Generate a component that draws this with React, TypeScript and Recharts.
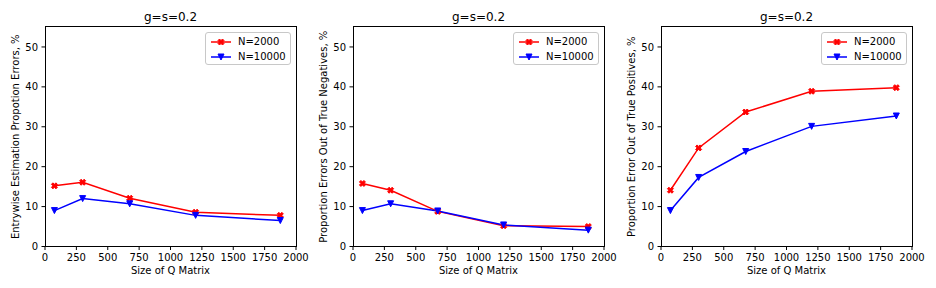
import React from 'react';
import { LineChart, Line, XAxis, YAxis, ReferenceArea, Legend } from 'recharts';

const qSizes = [75, 300, 675, 1200, 1875];
const xTicks = [0, 250, 500, 750, 1000, 1250, 1500, 1750, 2000];
const yTicks = [0, 10, 20, 30, 40, 50];
const seriesNames = ['N=2000', 'N=10000'];
const titles = ['g=s=0.2', 'g=s=0.2', 'g=s=0.2'];
const yLabels = [
  'Entrywise Estimation Propotion Errors, %',
  'Proportion Errors Out of True Negatives, %',
  'Proportion Error Out of True Positives, %',
];
const xLabel = 'Size of Q Matrix';

const entrywiseN2000 = [15.2, 16.1, 12.1, 8.6, 7.8];
const entrywiseN10000 = [9.0, 12.0, 10.7, 7.8, 6.5];
const trueNegN2000 = [15.8, 14.1, 8.8, 5.2, 5.0];
const trueNegN10000 = [9.0, 10.7, 8.9, 5.4, 4.1];
const truePosN2000 = [14.1, 24.7, 33.7, 38.9, 39.8];
const truePosN10000 = [9.0, 17.3, 23.8, 30.1, 32.7];

const panels = [
  { a: entrywiseN2000, b: entrywiseN10000 },
  { a: trueNegN2000, b: trueNegN10000 },
  { a: truePosN2000, b: truePosN10000 },
];

const RED = '#ff0000';
const BLUE = '#0000ff';
const FONT = 'DejaVu Sans, sans-serif';

const X_PTS = [
  [-1, -2], [0, -1], [1, -2], [2, -1], [1, 0], [2, 1],
  [1, 2], [0, 1], [-1, 2], [-2, 1], [-1, 0], [-2, -1],
];

function xPoints(cx: number, cy: number) {
  const s = 1.5;
  return X_PTS.map(([a, b]) => `${cx + a * s},${cy + b * s}`).join(' ');
}
function vPoints(cx: number, cy: number) {
  return `${cx - 3},${cy - 3} ${cx + 3},${cy - 3} ${cx},${cy + 3}`;
}

const CHART_W = 310;
const CHART_H = 288;
const Y_W = 45;
const TOP = 27;
const X_H = 41.5;
const RIGHT = 14;
const PLOT_R = CHART_W - RIGHT;
const LEG_W = 86;
const LEG_H = 33;

function LegendBox() {
  const row = (name: string, color: string, kind: 'x' | 'v') => (
    <div style={{ display: 'flex', alignItems: 'center', height: 15 }}>
      <svg width={28} height={12} style={{ display: 'block' }}>
        <line x1={1} y1={6} x2={21} y2={6} stroke={color} strokeWidth={1.5} />
        <polygon
          points={kind === 'x' ? xPoints(11, 6) : vPoints(11, 6)}
          fill={color}
          stroke={color}
          strokeWidth={1}
        />
      </svg>
      <span style={{ fontSize: 10, fontFamily: FONT, color: '#000', lineHeight: '12px' }}>{name}</span>
    </div>
  );
  return (
    <div
      style={{
        boxSizing: 'border-box',
        width: LEG_W,
        height: LEG_H,
        border: '1px solid #c8c8c8',
        borderRadius: 3,
        background: 'rgba(255,255,255,0.8)',
        padding: '1px 0 0 4px',
      }}
    >
      {row(seriesNames[0], RED, 'x')}
      {row(seriesNames[1], BLUE, 'v')}
    </div>
  );
}

function Panel({ idx }: { idx: number }) {
  const p = panels[idx];
  const data = qSizes.map((q, i) => ({ q, a: p.a[i], b: p.b[i] }));
  const tickStyle = { fill: '#000', fontSize: 10, fontFamily: FONT };
  return (
    <LineChart
      width={CHART_W}
      height={CHART_H}
      data={data}
      margin={{ top: TOP, right: RIGHT, bottom: 0, left: 0 }}
    >
      <XAxis
        dataKey="q"
        type="number"
        domain={[0, 2000]}
        ticks={xTicks}
        interval={0}
        height={X_H}
        axisLine={false}
        tickSize={3.5}
        tickMargin={4}
        tickLine={{ stroke: '#000', strokeWidth: 1 }}
        tick={tickStyle}
        allowDataOverflow
        label={{
          content: (props: any) => {
            const vb = props.viewBox;
            return (
              <text
                x={vb.x + vb.width / 2}
                y={274}
                textAnchor="middle"
                fontSize={10}
                fontFamily={FONT}
                fill="#000"
              >
                {xLabel}
              </text>
            );
          },
        }}
      />
      <YAxis
        type="number"
        domain={[0, 55]}
        ticks={yTicks}
        interval={0}
        width={Y_W}
        axisLine={false}
        tickSize={3.5}
        tickMargin={3.5}
        tickLine={{ stroke: '#000', strokeWidth: 1 }}
        tick={tickStyle}
        allowDataOverflow
        label={{
          content: (props: any) => {
            const vb = props.viewBox;
            const cx = vb.x + 15;
            const cy = vb.y + vb.height / 2;
            return (
              <text
                x={cx}
                y={cy}
                transform={`rotate(-90, ${cx}, ${cy})`}
                textAnchor="middle"
                dominantBaseline="central"
                fontSize={10}
                fontFamily={FONT}
                fill="#000"
              >
                {yLabels[idx]}
              </text>
            );
          },
        }}
      />
      <ReferenceArea
        x1={0}
        x2={2000}
        y1={0}
        y2={55}
        fill="none"
        fillOpacity={0}
        stroke="none"
        label={{
          content: (props: any) => {
            const vb = props.viewBox;
            return (
              <g>
                <text
                  x={vb.x + vb.width / 2}
                  y={vb.y - 6}
                  textAnchor="middle"
                  fontSize={12}
                  fontFamily={FONT}
                  fill="#000"
                >
                  {titles[idx]}
                </text>
                <path
                  d={`M${Math.round(vb.x) + 0.5},${Math.round(vb.y) - 0.5}H${Math.round(vb.x + vb.width) + 0.5}V${Math.round(vb.y + vb.height) - 0.5}H${Math.round(vb.x) + 0.5}Z`}
                  fill="none"
                  stroke="#000"
                  strokeWidth={1}
                  shapeRendering="crispEdges"
                />
              </g>
            );
          },
        }}
      />
      <Line
        dataKey="a"
        name={seriesNames[0]}
        stroke={RED}
        strokeWidth={1.5}
        isAnimationActive={false}
        dot={(d: any) => (
          <polygon key={`a${d.index}`} points={xPoints(d.cx, d.cy)} fill={RED} stroke={RED} strokeWidth={1} />
        )}
        activeDot={false}
      />
      <Line
        dataKey="b"
        name={seriesNames[1]}
        stroke={BLUE}
        strokeWidth={1.5}
        isAnimationActive={false}
        dot={(d: any) => (
          <polygon key={`b${d.index}`} points={vPoints(d.cx, d.cy)} fill={BLUE} stroke={BLUE} strokeWidth={1} />
        )}
        activeDot={false}
      />
      <Legend
        layout="vertical"
        align="center"
        verticalAlign="middle"
        wrapperStyle={{ left: PLOT_R - 5 - LEG_W, top: TOP + 5, width: LEG_W, height: LEG_H }}
        content={() => <LegendBox />}
      />
    </LineChart>
  );
}

const chartLefts = [0, 308, 616];

export default function App() {
  return (
    <div
      style={{
        position: 'absolute',
        left: 0,
        top: 0,
        width: 936,
        height: 288,
        background: '#fff',
        fontFamily: FONT,
      }}
    >
      {chartLefts.map((l, i) => (
        <div key={i} style={{ position: 'absolute', left: l, top: 0, width: CHART_W, height: CHART_H }}>
          <Panel idx={i} />
        </div>
      ))}
    </div>
  );
}
